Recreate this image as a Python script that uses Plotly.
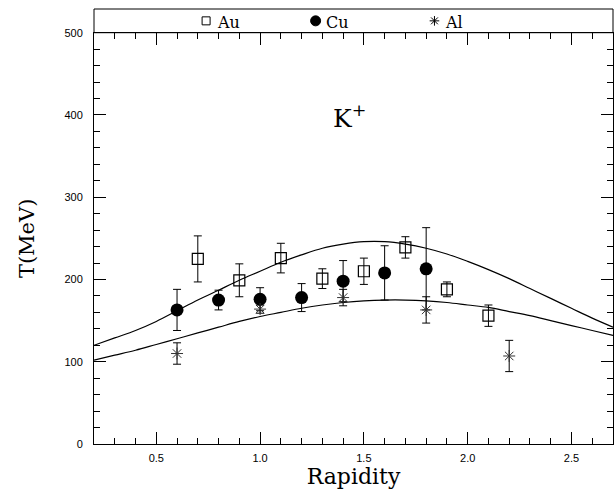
import plotly.graph_objects as go

# ---- data ----
au_x = [0.7, 0.9, 1.1, 1.3, 1.5, 1.7, 1.9, 2.1]
au_y = [225, 199, 226, 201, 210, 239, 188, 156]
au_err = [28, 20, 18, 12, 16, 13, 9, 13]

cu_x = [0.6, 0.8, 1.0, 1.2, 1.4, 1.6, 1.8]
cu_y = [163, 175, 176, 178, 198, 208, 213]
cu_err = [25, 12, 14, 17, 25, 33, 50]

al_x = [0.6, 1.0, 1.4, 1.8, 2.2]
al_y = [110, 164, 178, 163, 107]
al_err = [13, 5, 10, 16, 19]

curve_x = [0.2, 0.3, 0.4, 0.5, 0.6, 0.7, 0.8, 0.9, 1.0, 1.1, 1.2, 1.3, 1.4,
           1.5, 1.6, 1.7, 1.8, 1.9, 2.0, 2.1, 2.2, 2.3, 2.4, 2.5, 2.6, 2.7]
upper_y = [120, 129, 138, 149, 162, 175, 187, 199, 210, 221, 230, 238, 243,
           246, 246, 243, 238, 231, 222, 212, 201, 189, 177, 165, 153, 142]
lower_y = [102, 108, 114, 121, 128, 135, 142, 149, 155, 160, 165, 169, 172,
           174, 175, 175, 174, 172, 169, 166, 161, 156, 150, 144, 138, 132]

legend_labels = ["Au", "Cu", "Al"]
legend_pos = [0.216, 0.427, 0.656]
legend_symbols = ["square-open", "circle", "asterisk-open"]
legend_sizes = [8, 10, 8]

x_ticks = [0.5, 1.0, 1.5, 2.0, 2.5]
y_ticks = [0, 100, 200, 300, 400, 500]

TOP = 0.9455
serif = "DejaVu Serif"
sans = "Liberation Sans"

fig = go.Figure()

# model curves
for cy in (upper_y, lower_y):
    fig.add_trace(go.Scatter(x=curve_x, y=cy, mode="lines", line_shape="spline",
                             line=dict(color="black", width=1.2),
                             showlegend=False, hoverinfo="skip"))

err_style = dict(type="data", color="black", thickness=1, width=4)

fig.add_trace(go.Scatter(
    x=au_x, y=au_y, mode="markers", name="Au",
    error_y=dict(array=au_err, **err_style),
    marker=dict(symbol="square-open", size=11, color="black",
                line=dict(width=1.2, color="black")),
    showlegend=False))
fig.add_trace(go.Scatter(
    x=cu_x, y=cu_y, mode="markers", name="Cu",
    error_y=dict(array=cu_err, **err_style),
    marker=dict(symbol="circle", size=13, color="black"),
    showlegend=False))
fig.add_trace(go.Scatter(
    x=al_x, y=al_y, mode="markers", name="Al",
    error_y=dict(array=al_err, **err_style),
    marker=dict(symbol="asterisk-open", size=10, color="#333",
                line=dict(width=1, color="#333")),
    showlegend=False))

# legend band markers
for lab, px, sym, sz in zip(legend_labels, legend_pos, legend_symbols, legend_sizes):
    fig.add_trace(go.Scatter(
        x=[px], y=[0.5], xaxis="x2", yaxis="y2", mode="markers",
        marker=dict(symbol=sym, size=sz, color="black",
                    line=dict(width=1, color="black")),
        showlegend=False, hoverinfo="skip"))
    fig.add_annotation(x=px + 0.017, y=0.45, xref="x2", yref="y2", text=lab,
                       showarrow=False, xanchor="left", yanchor="middle",
                       font=dict(family=serif, size=16, color="black"))

fig.add_annotation(x=1.43, y=398, xref="x", yref="y", text="K<sup>+</sup>",
                   showarrow=False, font=dict(family=serif, size=25, color="black"))

fig.add_shape(type="rect", xref="paper", yref="paper", x0=0, x1=1, y0=TOP, y1=1,
              line=dict(color="black", width=1))

axis_common = dict(showline=True, linecolor="black", linewidth=1, mirror="allticks",
                   ticks="inside", ticklen=12, tickcolor="black", tickwidth=1,
                   showgrid=False, zeroline=False,
                   tickfont=dict(family=sans, size=11, color="black"))

fig.update_layout(
    width=615, height=491,
    margin=dict(l=94, r=2, t=9, b=47),
    paper_bgcolor="white", plot_bgcolor="white",
    xaxis=dict(range=[0.2, 2.7], domain=[0, 1], tickvals=x_ticks,
               ticktext=[f"{v:.1f}" for v in x_ticks],
               minor=dict(dtick=0.1, tick0=0, ticklen=6, ticks="inside",
                          tickcolor="black", showgrid=False),
               ticklabelstandoff=4,
               title=dict(text="Rapidity", font=dict(family=serif, size=22, color="black"),
                          standoff=3),
               **axis_common),
    yaxis=dict(range=[0, 500], domain=[0, TOP], tickvals=y_ticks,
               minor=dict(dtick=20, tick0=0, ticklen=6, ticks="inside",
                          tickcolor="black", showgrid=False),
               ticklabelstandoff=8,
               title=dict(text="T(MeV)", font=dict(family=serif, size=21, color="black"),
                          standoff=24),
               **axis_common),
    xaxis2=dict(domain=[0, 1], range=[0, 1], visible=False, anchor="y2"),
    yaxis2=dict(domain=[TOP, 1], range=[0, 1], visible=False, anchor="x2"),
)

fig.write_html("out.html")
